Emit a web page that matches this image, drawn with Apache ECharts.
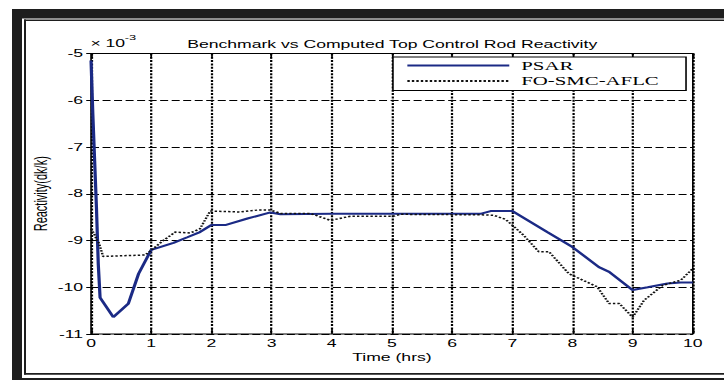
<!DOCTYPE html>
<html>
<head>
<meta charset="utf-8">
<script src="https://cdn.jsdelivr.net/npm/echarts@6/dist/echarts.min.js"></script>
<style>
  html, body { margin: 0; padding: 0; background: #fff; overflow: hidden; }
  /* the figure is laid out at a narrower width and stretched horizontally */
  #chart { width: 452.5px; height: 380px; transform: scaleX(1.6); transform-origin: 0 0; }
</style>
</head>
<body>
<div id="chart"></div>
<script>
// Time (hrs) and reactivity (x 10^-3 dk/k)
var psarTime  = [0, 0.03, 0.06, 0.09, 0.12, 0.15, 0.37, 0.62, 0.79, 1.0, 1.37, 1.6, 1.81, 2.0, 2.23, 2.6, 2.98, 3.15, 4.0, 5.0, 6.0, 6.47, 6.64, 7.0, 7.58, 8.0, 8.44, 8.61, 9.0, 9.25, 9.58, 9.8, 10.0];
var psarValue = [-5.15, -6.3, -7.3, -8.3, -9.5, -10.22, -10.64, -10.35, -9.71, -9.2, -9.05, -8.93, -8.82, -8.67, -8.67, -8.53, -8.4, -8.44, -8.43, -8.43, -8.43, -8.43, -8.37, -8.37, -8.82, -9.14, -9.57, -9.67, -10.06, -10.0, -9.92, -9.9, -9.9];

var foTime  = [0, 0.05, 0.1, 0.13, 0.2, 0.9, 1.0, 1.2, 1.4, 1.65, 1.81, 1.98, 2.48, 2.76, 2.98, 3.15, 3.64, 3.98, 4.31, 5.03, 5.14, 6.47, 6.69, 6.89, 7.0, 7.19, 7.44, 7.61, 7.94, 8.41, 8.61, 8.78, 9.0, 9.19, 9.5, 9.8, 10.0];
var foValue = [-8.75, -8.85, -9.0, -9.05, -9.34, -9.31, -9.21, -9.0, -8.82, -8.84, -8.75, -8.37, -8.39, -8.35, -8.35, -8.42, -8.42, -8.57, -8.48, -8.48, -8.44, -8.45, -8.46, -8.55, -8.67, -8.89, -9.24, -9.24, -9.71, -9.99, -10.35, -10.35, -10.64, -10.28, -9.96, -9.85, -9.6];

var seriesNames = ['PSAR', 'FO-SMC-AFLC'];
var xRange = [0, 10];
var yRange = [-11, -5];

function pairs(xs, ys) { return xs.map(function (x, i) { return [x, ys[i]]; }); }

var sx = 1.6; // horizontal stretch applied to the container
var sans = 'Liberation Sans, Arial, Helvetica, sans-serif';
var serif = 'Liberation Serif, Times New Roman, serif';
var ink = '#000';
var frame = '#1e1e1e';

var chart = echarts.init(document.getElementById('chart'), null, { renderer: 'svg' });

var tickAxisCommon = {
  type: 'value',
  min: xRange[0], max: xRange[1], interval: 1
};

chart.setOption({
  animation: false,
  backgroundColor: '#fff',
  title: {
    text: 'Benchmark vs Computed Top Control Rod Reactivity',
    left: 112, top: 34,
    textStyle: { fontFamily: sans, fontSize: 11, fontWeight: 'normal', color: ink }
  },
  legend: {
    data: seriesNames,
    orient: 'vertical',
    left: 245.6, top: 57,
    itemWidth: 63.7, itemHeight: 14, itemGap: 2.5,
    padding: [2, 17, 3, 8],
    backgroundColor: '#fff',
    borderColor: ink, borderWidth: 1,
    itemStyle: { opacity: 0 },
    textStyle: { fontFamily: serif, fontSize: 13, color: ink, padding: [0, 0, 0, 2.5] }
  },
  grid: {
    left: 56.9, right: 20, top: 53.5, bottom: 46,
    show: true, borderColor: ink, borderWidth: 1, backgroundColor: '#fff'
  },
  xAxis: [
    Object.assign({}, tickAxisCommon, {
      position: 'bottom',
      name: 'Time (hrs)', nameLocation: 'middle', nameGap: 18, nameMoveOverlap: false,
      nameTextStyle: { fontFamily: sans, fontSize: 11, color: ink },
      axisLine: { show: false },
      axisTick: { show: true, inside: true, length: 5, lineStyle: { color: ink, width: 1 } },
      axisLabel: { margin: 4, fontFamily: sans, fontSize: 11, color: ink },
      splitLine: { show: true, lineStyle: { color: ink, width: 1.4, type: [2, 1.3] } }
    }),
    Object.assign({}, tickAxisCommon, {
      position: 'top',
      axisLine: { show: false },
      axisTick: { show: true, inside: true, length: 5, lineStyle: { color: ink, width: 1 } },
      axisLabel: { show: false },
      splitLine: { show: false }
    })
  ],
  yAxis: [
    {
      type: 'value', min: yRange[0], max: yRange[1], interval: 1,
      position: 'left',
      name: 'Reactivity(dk/k)', nameLocation: 'middle', nameGap: 25.5, nameMoveOverlap: false,
      nameTextStyle: { fontFamily: sans, fontSize: 11, color: ink },
      axisLine: { show: false },
      axisTick: { show: true, inside: true, length: 3, lineStyle: { color: ink, width: 1 } },
      axisLabel: { margin: 5, fontFamily: sans, fontSize: 11, color: ink },
      splitLine: { show: true, lineStyle: { color: ink, width: 1.1, type: [5, 2.2] } }
    },
    {
      type: 'value', min: yRange[0], max: yRange[1], interval: 1,
      position: 'right',
      axisLine: { show: false },
      axisTick: { show: true, inside: true, length: 3, lineStyle: { color: ink, width: 1 } },
      axisLabel: { show: false },
      splitLine: { show: false }
    }
  ],
  series: [
    {
      name: seriesNames[0], type: 'line', xAxisIndex: 0, yAxisIndex: 0,
      data: pairs(psarTime, psarValue),
      symbol: 'none', z: 3,
      lineStyle: { color: '#1b2a85', width: 2 },
      itemStyle: { color: '#1b2a85' }
    },
    {
      name: seriesNames[1], type: 'line', xAxisIndex: 0, yAxisIndex: 0,
      data: pairs(foTime, foValue),
      symbol: 'none', z: 4,
      lineStyle: { color: '#111', width: 1.5, type: [1.5, 1.3] },
      itemStyle: { color: '#111' }
    }
  ],
  graphic: [
    // exponent note above the value axis
    { type: 'text', left: 56.5, top: 38, style: { text: '\u00d7 10', font: '11px ' + sans, fill: ink } },
    { type: 'text', left: 78, top: 33, style: { text: '-3', font: '8px ' + sans, fill: ink } },
    // double border round the figure
    { type: 'rect', shape: { x: 12 / sx, y: 9, width: 10 / sx, height: 380 }, style: { fill: frame }, silent: true },
    { type: 'rect', shape: { x: 12 / sx, y: 9, width: 800, height: 9.5 }, style: { fill: frame }, silent: true },
    { type: 'rect', shape: { x: 12 / sx, y: 378, width: 800, height: 10 }, style: { fill: frame }, silent: true },
    { type: 'rect', shape: { x: 24 / sx, y: 19.5, width: 2 / sx, height: 355 }, style: { fill: frame }, silent: true },
    { type: 'rect', shape: { x: 24 / sx, y: 19.5, width: 800, height: 1.6 }, style: { fill: frame }, silent: true },
    { type: 'rect', shape: { x: 24 / sx, y: 373, width: 800, height: 1.8 }, style: { fill: frame }, silent: true }
  ]
});
</script>
</body>
</html>
